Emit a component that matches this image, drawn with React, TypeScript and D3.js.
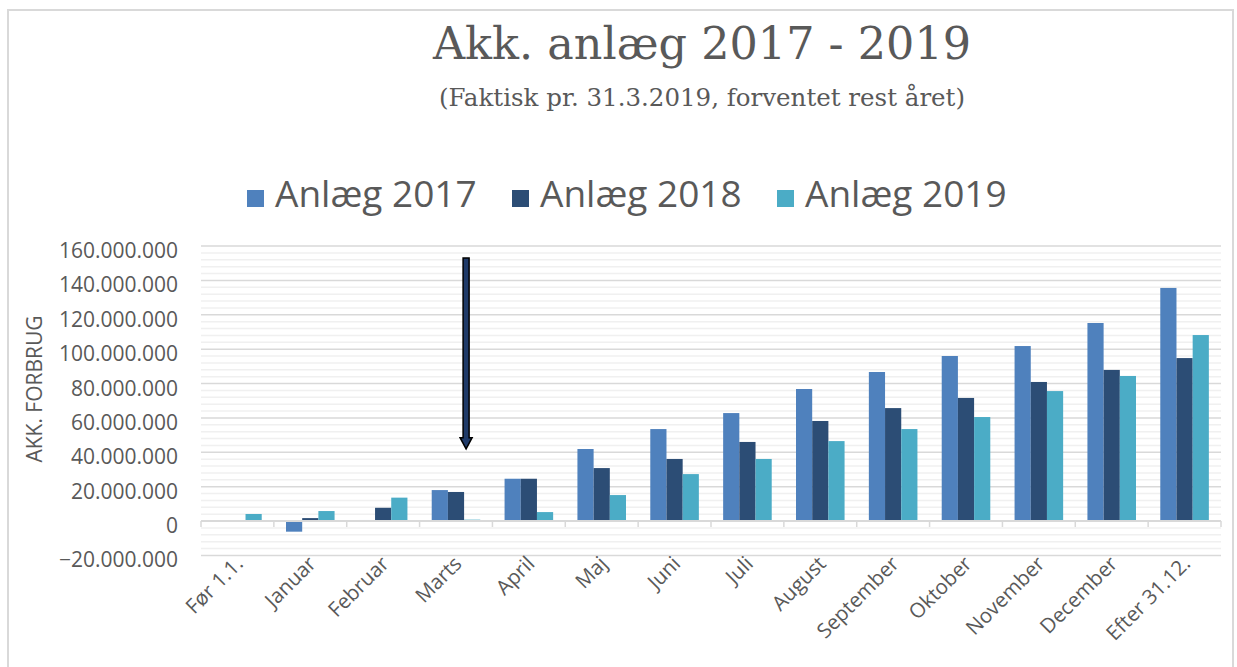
import { useEffect, useRef } from 'react'
import * as d3 from 'd3'

const categories = [
  'Før 1.1.', 'Januar', 'Februar', 'Marts', 'April', 'Maj', 'Juni',
  'Juli', 'August', 'September', 'Oktober', 'November', 'December', 'Efter 31.12.',
]
const seriesNames = ['Anlæg 2017', 'Anlæg 2018', 'Anlæg 2019']
// akkumuleret forbrug i kr.
const anlaeg2017 = [
  -300000, -6200000, 600000, 18000000, 24600000, 41900000, 53500000,
  62800000, 76800000, 86700000, 96000000, 101800000, 115200000, 135600000,
]
const anlaeg2018 = [
  0, 1700000, 7700000, 16900000, 24600000, 30800000, 36100000,
  46000000, 58200000, 65700000, 71600000, 80900000, 87900000, 94800000,
]
const anlaeg2019 = [
  4100000, 5800000, 13600000, 800000, 5200000, 15100000, 27300000,
  36100000, 46500000, 53500000, 60500000, 75600000, 84400000, 108200000,
]
const yTicks = [-20000000, 0, 20000000, 40000000, 60000000, 80000000, 100000000, 120000000, 140000000, 160000000]
const colors = ['#4f81bd', '#2c4d75', '#4bacc6']

const App = () => {
  const svgRef = useRef(null)

  useEffect(() => {
    const width = 1237
    const height = 667
    const left = 201
    const right = 1221
    const textColor = '#595959'
    const sans = "'Open Sans', sans-serif"

    const svg = d3.select(svgRef.current).attr('width', width).attr('height', height)
    svg.selectAll('*').remove()

    // chart frame
    svg
      .append('rect')
      .attr('x', 8)
      .attr('y', 10)
      .attr('width', 1225)
      .attr('height', 700)
      .attr('fill', '#fff')
      .attr('stroke', '#d9d9d9')
      .attr('stroke-width', 2)

    const y = d3.scaleLinear().domain([-20000000, 160000000]).range([555.4, 246])
    const x0 = d3.scaleBand().domain(categories).range([left, right]).paddingInner(0).paddingOuter(0)
    const x1 = d3.scaleBand().domain(seriesNames).range([0, x0.bandwidth()]).paddingInner(0).paddingOuter(0.75)

    // minor gridlines
    const minor = d3.range(-20000000, 160000001, 4000000).filter((v) => v % 20000000 !== 0)
    svg
      .append('g')
      .selectAll('line')
      .data(minor)
      .join('line')
      .attr('x1', left)
      .attr('x2', right)
      .attr('y1', (d) => y(d))
      .attr('y2', (d) => y(d))
      .attr('stroke', '#f0f0f0')
      .attr('stroke-width', 1.5)

    // major gridlines
    svg
      .append('g')
      .selectAll('line')
      .data(yTicks.filter((v) => v !== 0))
      .join('line')
      .attr('x1', left)
      .attr('x2', right)
      .attr('y1', (d) => y(d))
      .attr('y2', (d) => y(d))
      .attr('stroke', '#d9d9d9')
      .attr('stroke-width', 1.5)

    const fmt = d3.formatLocale({ decimal: ',', thousands: '.', grouping: [3], currency: ['', ''] }).format(',')

    svg
      .append('g')
      .selectAll('text')
      .data(yTicks)
      .join('text')
      .attr('x', 178)
      .attr('y', (d) => y(d) + 12)
      .attr('text-anchor', 'end')
      .attr('font-family', sans)
      .attr('font-size', 21)
      .attr('fill', textColor)
      .text((d) => fmt(d))

    svg
      .append('text')
      .attr('transform', 'translate(42,389) rotate(-90)')
      .attr('text-anchor', 'middle')
      .attr('font-family', sans)
      .attr('font-size', 21)
      .attr('fill', textColor)
      .text('AKK. FORBRUG')

    // bars
    const series = [anlaeg2017, anlaeg2018, anlaeg2019]
    series.forEach((vals, si) => {
      svg
        .append('g')
        .selectAll('rect')
        .data(vals)
        .join('rect')
        .attr('x', (_, i) => (x0(categories[i]) as number) + (x1(seriesNames[si]) as number))
        .attr('width', x1.bandwidth())
        .attr('y', (d) => y(Math.max(0, d)))
        .attr('height', (d) => Math.abs(y(d) - y(0)))
        .attr('fill', colors[si])
    })

    // category axis
    svg
      .append('line')
      .attr('x1', left)
      .attr('x2', right)
      .attr('y1', y(0))
      .attr('y2', y(0))
      .attr('stroke', '#d9d9d9')
      .attr('stroke-width', 2)
    const bounds = categories.map((c) => x0(c) as number).concat([right])
    svg
      .append('g')
      .selectAll('line')
      .data(bounds)
      .join('line')
      .attr('x1', (d) => d)
      .attr('x2', (d) => d)
      .attr('y1', y(0))
      .attr('y2', y(0) + 6)
      .attr('stroke', '#d9d9d9')
      .attr('stroke-width', 1.5)

    svg
      .append('g')
      .selectAll('text')
      .data(categories)
      .join('text')
      .attr('transform', (d) => `translate(${(x0(d) as number) + x0.bandwidth() / 2 + 7},565) rotate(-45)`)
      .attr('text-anchor', 'end')
      .attr('font-family', sans)
      .attr('font-size', 20.5)
      .attr('fill', textColor)
      .text((d) => d)

    // arrow marking Marts
    const ax = (x0('Marts') as number) + (x1('Anlæg 2019') as number) + 2
    const top = y(153000000)
    const headTop = y(48500000)
    const tip = y(42000000)
    svg
      .append('path')
      .attr(
        'd',
        `M${ax - 3},${top}L${ax + 3},${top}L${ax + 3},${headTop}L${ax + 6},${headTop}L${ax},${tip}L${ax - 6},${headTop}L${ax - 3},${headTop}Z`,
      )
      .attr('fill', '#1f3a68')
      .attr('stroke', '#000')
      .attr('stroke-width', 1.5)

    // title
    svg
      .append('text')
      .attr('x', 702)
      .attr('y', 59)
      .attr('text-anchor', 'middle')
      .attr('font-family', "'DejaVu Serif', serif")
      .attr('font-size', 44.5)
      .attr('fill', textColor)
      .text('Akk. anlæg 2017 - 2019')
    svg
      .append('text')
      .attr('x', 702)
      .attr('y', 106)
      .attr('text-anchor', 'middle')
      .attr('font-family', "'DejaVu Serif', serif")
      .attr('font-size', 24.5)
      .attr('fill', textColor)
      .text('(Faktisk pr. 31.3.2019, forventet rest året)')

    // legend
    const legend = svg
      .append('g')
      .selectAll('g')
      .data(seriesNames)
      .join('g')
      .attr('transform', (_, i) => `translate(${247 + i * 265},0)`)
    legend
      .append('rect')
      .attr('x', 0)
      .attr('y', 190)
      .attr('width', 17)
      .attr('height', 17)
      .attr('fill', (_, i) => colors[i])
    legend
      .append('text')
      .attr('x', 28)
      .attr('y', 207)
      .attr('font-family', sans)
      .attr('font-size', 37)
      .attr('fill', textColor)
      .text((d) => d)
  }, [])

  return <svg ref={svgRef} style={{ position: 'absolute', left: 0, top: 0 }}></svg>
}

export default App
